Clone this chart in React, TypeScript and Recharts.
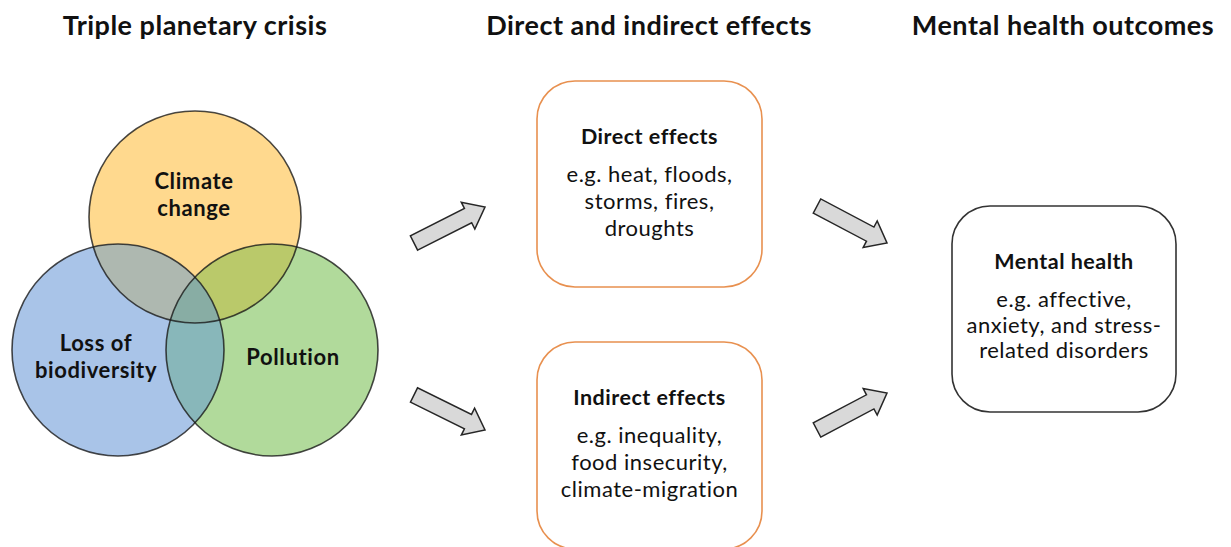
import { ScatterChart, Scatter, XAxis, YAxis, ReferenceLine, ReferenceArea } from 'recharts'

const W = 1231
const H = 547
const FONT = 'Lato, "Open Sans", sans-serif'

// column headers
const headers = ['Triple planetary crisis', 'Direct and indirect effects', 'Mental health outcomes']
const headerX = [195, 649, 1063]
const headerY = [35, 35, 35]

// venn circles (centres)
const vennNames = ['climate', 'biodiversity', 'pollution']
const vennX = [195, 118, 272]
const vennY = [217, 350, 350]
const vennFill: Record<string, string> = { climate: '#FFD98E', biodiversity: '#A9C4E8', pollution: '#B1DA9B' }
const R = 106

// overlaps: circle drawn, clipped by the others
const overlapOf = ['biodiversity', 'pollution', 'pollution', 'pollution']
const overlapClip = [['climate'], ['climate'], ['biodiversity'], ['climate', 'biodiversity']]
const overlapFill = ['#AEB8B0', '#BAC96A', '#88B7BA', '#88ADA4']

// venn labels
const vennLabels = [['Climate', 'change'], ['Loss of', 'biodiversity'], ['Pollution']]
const vennLabelX = [194, 96, 293]
const vennLabelY = [189, 351, 365]

// boxes
const boxTitles = ['Direct effects', 'Indirect effects', 'Mental health']
const boxLines = [
  ['e.g. heat, floods,', 'storms, fires,', 'droughts'],
  ['e.g. inequality,', 'food insecurity,', 'climate-migration'],
  ['e.g. affective,', 'anxiety, and stress-', 'related disorders'],
]
const boxX1 = [537, 537, 952]
const boxX2 = [762, 762, 1176]
const boxY1 = [81, 342, 206]
const boxY2 = [287, 549, 412]
const boxStroke = ['#E8904F', '#E8904F', '#333333']
const boxGap = [27, 27, 25.5]

// arrows: tail -> tip
const arrowFrom = [{ x: 414, y: 243 }, { x: 414, y: 395 }, { x: 817, y: 206 }, { x: 817, y: 430 }]
const arrowTo = [{ x: 485, y: 207 }, { x: 485, y: 430 }, { x: 887, y: 243 }, { x: 887, y: 393 }]

const headerData = headers.map((t, i) => ({ x: headerX[i], y: headerY[i], text: t }))
const vennData = vennNames.map((n, i) => ({ x: vennX[i], y: vennY[i], name: n }))
const overlapData = overlapOf.map((n, i) => {
  const k = vennNames.indexOf(n)
  return { x: vennX[k], y: vennY[k], clips: overlapClip[i], fill: overlapFill[i] }
})
const vennLabelData = vennLabels.map((l, i) => ({ x: vennLabelX[i], y: vennLabelY[i], lines: l }))

function BlockArrow(p: any) {
  const { x1, y1, x2, y2 } = p
  const dx = x2 - x1
  const dy = y2 - y1
  const len = Math.hypot(dx, dy)
  const ux = dx / len
  const uy = dy / len
  const nx = -uy
  const ny = ux
  const sw = 8
  const hw = 15
  const hl = 19
  const neckX = x2 - ux * hl
  const neckY = y2 - uy * hl
  const pts = [
    [x1 + nx * sw, y1 + ny * sw],
    [neckX + nx * sw, neckY + ny * sw],
    [neckX + nx * hw, neckY + ny * hw],
    [x2, y2],
    [neckX - nx * hw, neckY - ny * hw],
    [neckX - nx * sw, neckY - ny * sw],
    [x1 - nx * sw, y1 - ny * sw],
  ]
  return (
    <polygon
      points={pts.map(q => q.join(',')).join(' ')}
      fill="#D9D9D9"
      stroke="#262626"
      strokeWidth={1.5}
      strokeLinejoin="miter"
    />
  )
}

function BoxShape(i: number) {
  return (p: any) => {
    const { x, y, width, height } = p
    const mid = x + width / 2
    return (
      <g>
        <rect x={x} y={y} width={width} height={height} rx={38} ry={38} fill="#fff" stroke={boxStroke[i]} strokeWidth={1.6} />
        <text x={mid} y={y + 63} textAnchor="middle" fontFamily={FONT} fontWeight={700} fontSize={21.5} letterSpacing={0.5} fill="#111">
          {boxTitles[i]}
        </text>
        {boxLines[i].map((l, j) => (
          <text key={j} x={mid} y={y + 101 + j * boxGap[i]} textAnchor="middle" fontFamily={FONT} fontSize={22} letterSpacing={0.5} fill="#111">
            {l}
          </text>
        ))}
      </g>
    )
  }
}

export default function App() {
  return (
    <div style={{ width: W, height: H }}>
      <style>{'body{margin:0}'}</style>
      <ScatterChart width={W} height={H} margin={{ top: 0, right: 0, bottom: 0, left: 0 }}>
        <XAxis type="number" dataKey="x" domain={[0, W]} hide allowDataOverflow />
        <YAxis type="number" dataKey="y" domain={[0, H]} reversed hide allowDataOverflow />

        {/* circle fills + clip definitions */}
        <Scatter
          data={vennData}
          isAnimationActive={false}
          shape={(p: any) => (
            <g>
              <defs>
                <clipPath id={`venn-${p.payload.name}`}>
                  <circle cx={p.cx} cy={p.cy} r={R} />
                </clipPath>
              </defs>
              <circle cx={p.cx} cy={p.cy} r={R} fill={vennFill[p.payload.name]} />
            </g>
          )}
        />
        {/* overlaps */}
        <Scatter
          data={overlapData}
          isAnimationActive={false}
          shape={(p: any) => {
            const clips: string[] = p.payload.clips
            let node = <circle cx={p.cx} cy={p.cy} r={R} fill={p.payload.fill} />
            clips.forEach(c => {
              node = <g clipPath={`url(#venn-${c})`}>{node}</g>
            })
            return node
          }}
        />
        {/* outlines */}
        <Scatter
          data={vennData}
          isAnimationActive={false}
          shape={(p: any) => (
            <circle cx={p.cx} cy={p.cy} r={R} fill="none" stroke="#1a1a1a" strokeOpacity={0.8} strokeWidth={1.6} />
          )}
        />
        {/* circle labels */}
        <Scatter
          data={vennLabelData}
          isAnimationActive={false}
          shape={(p: any) => (
            <g>
              {p.payload.lines.map((l: string, j: number) => (
                <text key={j} x={p.cx} y={p.cy + j * 27} textAnchor="middle" fontFamily={FONT} fontWeight={700} fontSize={22} letterSpacing={0.6} fill="#111">
                  {l}
                </text>
              ))}
            </g>
          )}
        />
        {/* headers */}
        <Scatter
          data={headerData}
          isAnimationActive={false}
          shape={(p: any) => (
            <text x={p.cx} y={p.cy} textAnchor="middle" fontFamily={FONT} fontWeight={700} fontSize={27} letterSpacing={0.5} fill="#111">
              {p.payload.text}
            </text>
          )}
        />

        {boxTitles.map((t, i) => (
          <ReferenceArea
            key={t}
            x1={boxX1[i]}
            x2={boxX2[i]}
            y1={boxY1[i]}
            y2={boxY2[i]}
            ifOverflow="visible"
            shape={BoxShape(i)}
          />
        ))}

        {arrowFrom.map((a, i) => (
          <ReferenceLine
            key={i}
            segment={[a, arrowTo[i]]}
            ifOverflow="visible"
            shape={BlockArrow}
          />
        ))}
      </ScatterChart>
    </div>
  )
}
